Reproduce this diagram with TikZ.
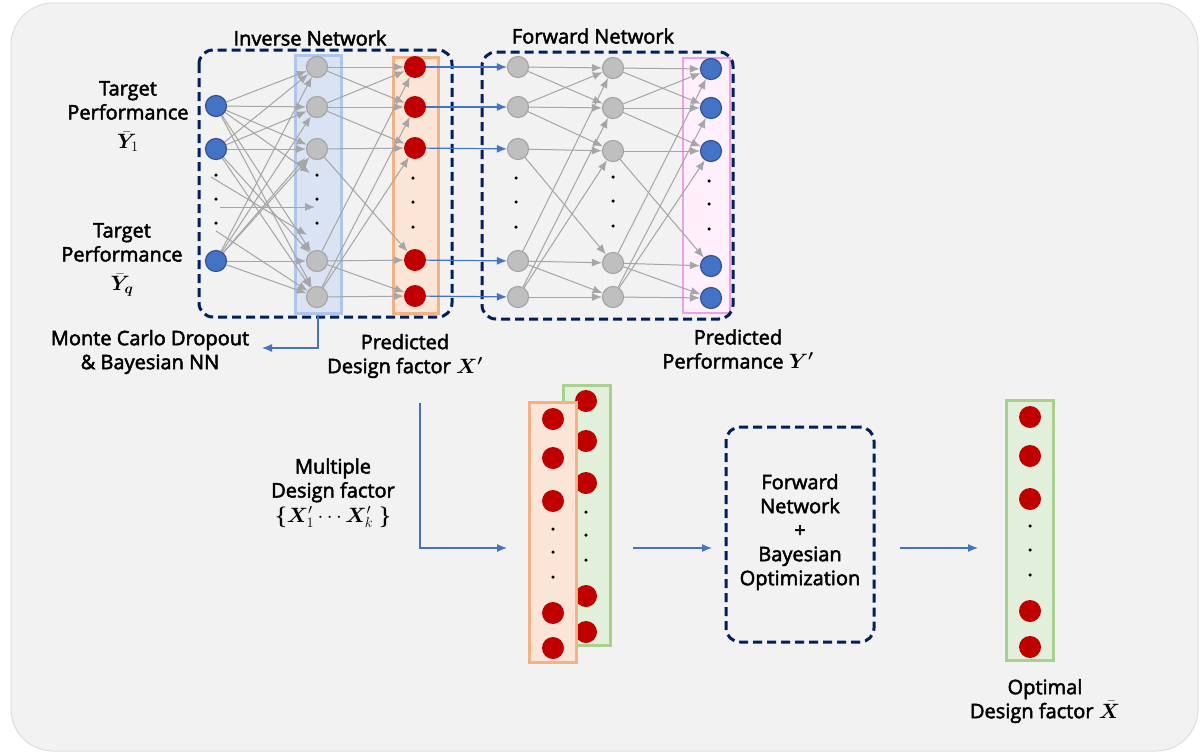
\documentclass[tikz,border=0pt]{standalone}
\usepackage{fontspec}
\setmainfont{Open Sans}
\newfontfamily\lblfont{Open Sans}[FakeBold=2.4]
\usepackage{bm}
\usetikzlibrary{arrows.meta}
\definecolor{bg}{HTML}{F2F2F2}
\definecolor{bgline}{HTML}{DDDDDD}
\definecolor{navy}{HTML}{002060}
\definecolor{nblue}{HTML}{4472C4}
\definecolor{nblueb}{HTML}{2F5597}
\definecolor{ngray}{HTML}{BFBFBF}
\definecolor{ngrayb}{HTML}{A6A6A6}
\definecolor{nred}{HTML}{C00000}
\definecolor{edgec}{HTML}{A6A6A6}
\definecolor{cbfill}{HTML}{DAE3F3}
\definecolor{cbline}{HTML}{AFC5EA}
\definecolor{cofill}{HTML}{FBE5D6}
\definecolor{coline}{HTML}{F4B183}
\definecolor{cpfill}{HTML}{FFF0FC}
\definecolor{cpline}{HTML}{EEA0E4}
\definecolor{cgfill}{HTML}{E2EFDA}
\definecolor{cgline}{HTML}{A9D18E}
\newcommand{\lblmath}[1]{{\fontsize{20.74}{24}\selectfont$#1$}}
\tikzset{
  blueN/.style={circle, fill=nblue, draw=nblueb, line width=1.2pt, minimum size=21pt, inner sep=0pt},
  grayN/.style={circle, fill=ngray, draw=ngrayb, line width=1.2pt, minimum size=21pt, inner sep=0pt},
  redN/.style={circle, fill=nred, minimum size=22pt, inner sep=0pt},
  dotN/.style={circle, fill=black, minimum size=3.5pt, inner sep=0pt},
  ed/.style={-{Latex[length=10pt,width=8pt]}, draw=edgec, fill=edgec, line width=1pt},
  barr/.style={-{Latex[length=10pt,width=8pt]}, draw=nblue, line width=1.2pt},
  dbox/.style={draw=navy, line width=3pt, dash pattern=on 9pt off 5pt, rounded corners=14pt},
  colbox/.style={line width=3pt, inner sep=0pt},
  txt/.style={font=\lblfont\fontsize{20}{24}\selectfont, align=center, inner sep=1pt},
}
\begin{document}
\begin{tikzpicture}[x=1pt,y=-1pt]
\useasboundingbox (0,0) rectangle (1200,753);
\fill[white] (0,0) rectangle (1200,753);
\draw[fill=bg, draw=bgline, line width=1pt, rounded corners=42pt] (11,3) rectangle (1198,751);

% columns
\node[colbox, fill=cbfill, draw=cbline, minimum width=46pt, minimum height=258pt] (colB) at (318,184) {};
\node[colbox, fill=cofill, draw=coline, minimum width=45pt, minimum height=256pt] (colO) at (415.5,185) {};
\node[colbox, fill=cpfill, draw=cpline, line width=2.5pt, minimum width=47pt, minimum height=255pt] (colP) at (706.5,185.5) {};

% dashed boxes
\draw[dbox] (199,50) rectangle (452,317);
\draw[dbox] (482,52) rectangle (733,319);
\node[dbox, minimum width=148pt, minimum height=215pt] (fbo) at (800,534.5) {};

% inverse network nodes
\node[blueN] (I1) at (216,106) {};
\node[blueN] (I2) at (216,149) {};
\node[blueN] (I3) at (216,261) {};
\foreach \y [count=\i] in {175,199,223} \node[dotN] (Id\i) at (216,\y) {};
\foreach \y [count=\i] in {67,107,149,261,297} \node[grayN] (H\i) at (317,\y) {};
\foreach \y [count=\i] in {175,199,223} \node[dotN] (Hd\i) at (317,\y) {};
\foreach \y [count=\i] in {67,107,148,260,296} \node[redN] (R\i) at (415,\y) {};
\foreach \y [count=\i] in {178,202,227} \node[dotN] (Rd\i) at (413,\y) {};

% forward network nodes
\foreach \y [count=\i] in {67,107,149,261,297} \node[grayN] (A\i) at (518,\y) {};
\foreach \y [count=\i] in {178,202,227} \node[dotN] (Ad\i) at (516,\y) {};
\foreach \y [count=\i] in {68,108,151,263,297} \node[grayN] (B\i) at (613,\y) {};
\foreach \y [count=\i] in {177,201,226} \node[dotN] (Bd\i) at (613,\y) {};
\foreach \y [count=\i] in {69,108,151,266,298} \node[blueN] (C\i) at (711,\y) {};
\foreach \y [count=\i] in {181,204,229} \node[dotN] (Cd\i) at (709,\y) {};

% inverse edges
\foreach \s in {I1,I2,I3} \foreach \t in {H1,H2,H3,H4,H5} \draw[ed] (\s) -- (\t);
\coordinate (hx1) at (310,173);
\coordinate (hx2) at (305,158);
\coordinate (hx3) at (315,207);
\coordinate (hx4) at (307,235);
\coordinate (ix1) at (211,177);
\coordinate (ix2) at (220,207);
\coordinate (ix3) at (216,231);
\draw[ed] (I1) -- (hx1);
\draw[ed] (I3) -- (hx2);
\draw[ed] (ix1) -- (hx4);
\draw[ed] (ix2) -- (hx3);
\draw[ed] (ix3) -- (H5);
\foreach \a/\b in {1/1,1/2,2/1,2/2,2/3,3/3,3/4,4/1,4/4,4/5,5/2,5/3,5/5} {
  \draw[ed] (H\a) -- (R\b);
  \draw[ed] (A\a) -- (B\b);
  \draw[ed] (B\a) -- (C\b);
}
% blue transfer arrows
\foreach \i in {1,...,5} \draw[barr] (R\i) -- (A\i);

% labels top
\node[txt] (lInv) at (310,38) {Inverse Network};
\node[txt] (lFwd) at (593,36) {Forward Network};
\node[txt, anchor=north] (tp1) at (128,80) {Target\\Performance\\[5pt]\lblmath{\bm{\bar{Y}}_{1}}};
\node[txt, anchor=north] (tpq) at (122,222) {Target\\Performance\\[5pt]\lblmath{\bm{\bar{Y}_{q}}}};
\node[txt] (mcd) at (150,352) {Monte Carlo Dropout\\\& Bayesian NN};
\node[txt] (pdf) at (405,356) {Predicted\\Design factor \lblmath{\bm{X'}}};
\node[txt] (ppf) at (738,349) {Predicted\\Performance \lblmath{\bm{Y'}}};
\coordinate (mcEnd) at (262,348);
\draw[barr] (colB.south) |- (mcEnd);

% bottom part
\node[txt] (mdf) at (333,493) {Multiple\\Design factor\\[1pt]{\fontsize{20.74}{24}\selectfont$\bm{\{}\bm{X}'_{1}\cdots\bm{X}'_{k}\;\bm{\}}$}};
\coordinate (p0) at (420,403);
\coordinate (p1) at (507,548);
\draw[barr] (p0) |- (p1);

\node[colbox, fill=cgfill, draw=cgline, minimum width=47pt, minimum height=260pt] (stG) at (586.5,515) {};
\foreach \y [count=\i] in {401,441,483,596,632} \node[redN] (G\i) at (586,\y) {};
\foreach \y [count=\i] in {512,535,560} \node[dotN] (Gd\i) at (586,\y) {};
\node[colbox, fill=cofill, draw=coline, minimum width=47pt, minimum height=260pt] (stO) at (552.5,532) {};
\foreach \y [count=\i] in {419,458,501,613,648} \node[redN] (O\i) at (553,\y) {};
\foreach \y [count=\i] in {529,552,577} \node[dotN] (Od\i) at (553,\y) {};

\coordinate (q0) at (633,548);
\coordinate (q1) at (712,548);
\draw[barr] (q0) -- (q1);
\node[txt] (fbt) at (800,532) {Forward\\Network\\+\\Bayesian\\Optimization};
\coordinate (r0) at (900,548);
\coordinate (r1) at (978,548);
\draw[barr] (r0) -- (r1);

\node[colbox, fill=cgfill, draw=cgline, minimum width=47pt, minimum height=260pt] (fin) at (1029.5,530) {};
\foreach \y [count=\i] in {417,456,499,611,647} \node[redN] (F\i) at (1030,\y) {};
\foreach \y [count=\i] in {526,550,575} \node[dotN] (Fd\i) at (1030,\y) {};
\node[txt] (opt) at (1045,701) {Optimal\\Design factor \lblmath{\bm{\bar{X}}}};
\end{tikzpicture}
\end{document}
